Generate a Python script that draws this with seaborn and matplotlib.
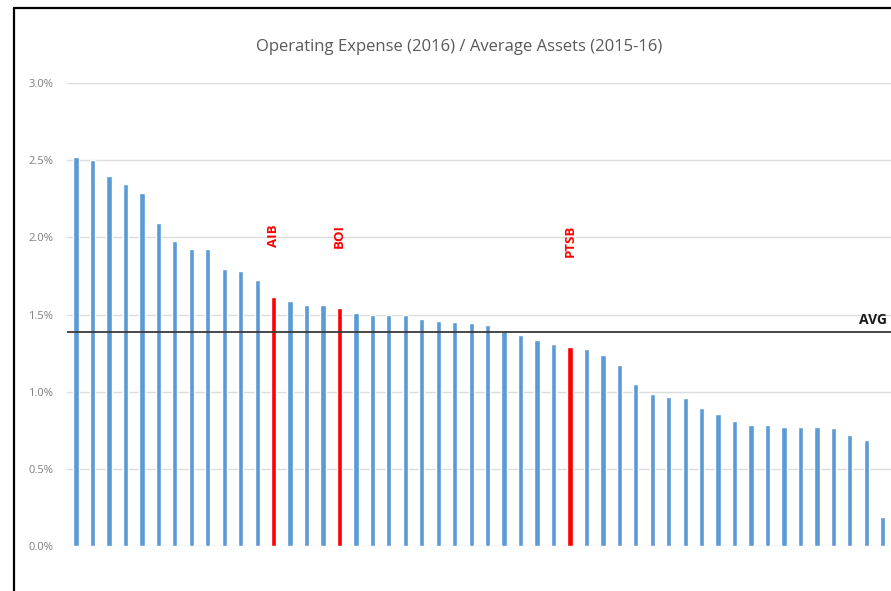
import numpy as np
import pandas as pd
import seaborn as sns
import matplotlib.pyplot as plt
from matplotlib.lines import Line2D
from matplotlib.ticker import FuncFormatter

# Operating expense / average assets, % (banks sorted high to low)
cost_ratio = [2.52, 2.50, 2.40, 2.345, 2.285, 2.09, 1.977, 1.926, 1.926, 1.794,
              1.785, 1.723, 1.611, 1.585, 1.559, 1.559, 1.539, 1.507, 1.498, 1.498,
              1.498, 1.472, 1.455, 1.453, 1.444, 1.429, 1.392, 1.364, 1.332, 1.306,
              1.289, 1.278, 1.235, 1.172, 1.051, 0.982, 0.965, 0.956, 0.896, 0.853,
              0.808, 0.782, 0.782, 0.773, 0.773, 0.773, 0.764, 0.721, 0.687, 0.19]
irish_banks = {12: "AIB", 16: "BOI", 30: "PTSB"}
avg_ratio = 1.387
y_ticks = [0.0, 0.5, 1.0, 1.5, 2.0, 2.5, 3.0]
title = "Operating Expense (2016) / Average Assets (2015-16)"

df = pd.DataFrame({"bank": range(len(cost_ratio)), "ratio": cost_ratio})
df["group"] = np.where(df["bank"].isin(irish_banks.keys()), "irish", "other")

sns.set_style("white")
plt.rcParams["font.family"] = ["Open Sans", "DejaVu Sans"]

fig = plt.figure(figsize=(8.91, 5.91), dpi=100)
ax = fig.add_axes([0.0752, 0.0761, 0.934, 0.7835])

sns.barplot(data=df, x="bank", y="ratio", hue="group",
            palette={"irish": "#ff0000", "other": "#5b9bd5"}, saturation=1,
            width=0.32, dodge=False, legend=False, ax=ax, zorder=2)

ax.set_xlim(-0.55, 50.0)
ax.set_ylim(0, 3.0)
ax.set_yticks(y_ticks)
ax.yaxis.set_major_formatter(FuncFormatter(lambda v, p: f"{v:.1f}%"))
ax.tick_params(axis="y", labelsize=8, labelcolor="#7f7f7f", length=0, pad=10)
ax.set_xticks([])
ax.set_xlabel("")
ax.set_ylabel("")
ax.grid(axis="y", color="#dcdcdc", linewidth=1, zorder=0)
for s in ax.spines.values():
    s.set_visible(False)

# average line
ax.axhline(avg_ratio, color="#3a3a3a", linewidth=1.3, zorder=3)
ax.text(49.25, avg_ratio + 0.03, "AVG", ha="right", va="bottom",
        fontsize=10, fontweight="bold", color="#1a1a1a")

# Irish bank labels
for i, name in irish_banks.items():
    ax.text(i, 2.085, name, rotation=90, ha="center", va="top",
            fontsize=9.5, fontweight="bold", color="#ff0000")

fig.text(0.515, 0.92, title, ha="center", va="center", fontsize=12, color="#595959")

# frame of the figure box
fig.add_artist(Line2D([0.0157, 0.0157], [0, 0.987], color="black", linewidth=1.6,
                      transform=fig.transFigure))
fig.add_artist(Line2D([0.0157, 1.0], [0.987, 0.987], color="black", linewidth=1.6,
                      transform=fig.transFigure))

fig.savefig("out.png", dpi=100)
